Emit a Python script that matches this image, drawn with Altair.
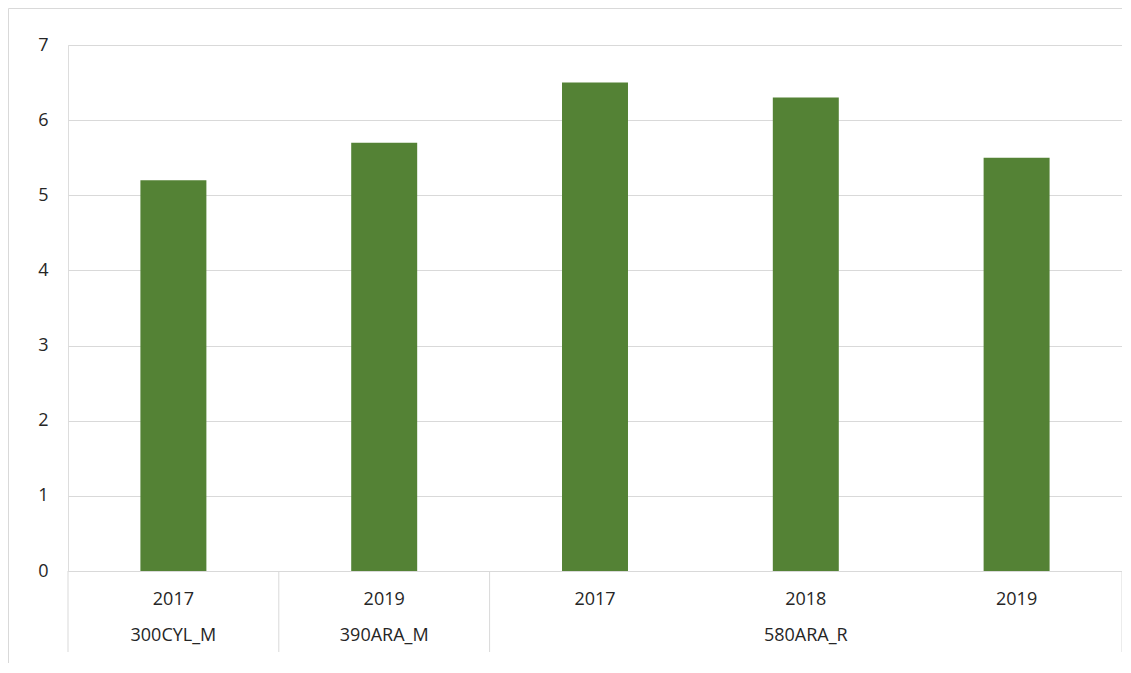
import altair as alt
import pandas as pd

# ---- data ----
groups = ["300CYL_M", "390ARA_M", "580ARA_R", "580ARA_R", "580ARA_R"]
years = ["2017", "2019", "2017", "2018", "2019"]
values = [5.2, 5.7, 6.5, 6.3, 5.5]
y_ticks = [0, 1, 2, 3, 4, 5, 6, 7]

BAR_COLOR = "#548235"
GRID = "#d9d9d9"
TEXT = "#262626"
FONT = "Open Sans"
FS = 18
W, H = 1054, 526
BAR_FRAC = 0.313

df = pd.DataFrame({
    "idx": list(range(len(values))),
    "group": groups,
    "year": years,
    "value": values,
})
df["mid"] = df["idx"] + 0.5
df["lo"] = df["mid"] - BAR_FRAC / 2
df["hi"] = df["mid"] + BAR_FRAC / 2

# group table built from the lists
gstart, gend, gname = [], [], []
for i, g in enumerate(groups):
    if not gname or gname[-1] != g:
        gname.append(g); gstart.append(i); gend.append(i + 1)
    else:
        gend[-1] = i + 1
gdf = pd.DataFrame({"group": gname, "start": gstart, "end": gend})
gdf["center"] = (gdf["start"] + gdf["end"]) / 2
bounds = sorted(set(gstart) | set(gend))
bdf = pd.DataFrame({"b": bounds})

xscale = alt.Scale(domain=[0, len(values)], nice=False, zero=False)
yscale = alt.Scale(domain=[0, 7], nice=False)

bars = alt.Chart(df).mark_bar(color=BAR_COLOR).encode(
    x=alt.X("lo:Q", scale=xscale,
            axis=alt.Axis(labels=False, ticks=False, grid=False, title=None,
                          domainColor=GRID, domainWidth=1)),
    x2="hi:Q",
    y=alt.Y("value:Q", scale=yscale,
            axis=alt.Axis(values=y_ticks, title=None, domain=False, ticks=False,
                          gridColor=GRID, gridWidth=1, labelPadding=20,
                          labelFont=FONT, labelFontSize=FS, labelColor=TEXT)),
    y2=alt.datum(0),
)

year_text = alt.Chart(df).mark_text(
    font=FONT, fontSize=FS, color=TEXT, baseline="middle", align="center"
).encode(
    x=alt.X("mid:Q", scale=xscale),
    y=alt.value(H + 29),
    text="year:N",
)

group_text = alt.Chart(gdf).mark_text(
    font=FONT, fontSize=FS, color=TEXT, baseline="middle", align="center"
).encode(
    x=alt.X("center:Q", scale=xscale),
    y=alt.value(H + 65),
    text="group:N",
)

seps = alt.Chart(bdf).mark_rule(color=GRID, strokeWidth=1).encode(
    x=alt.X("b:Q", scale=xscale),
    y=alt.value(H),
    y2=alt.value(H + 81),
)

frame = alt.Chart(alt.Data(values=[{}])).mark_rule(color=GRID, strokeWidth=1).encode(
    x=alt.value(-59.5), y=alt.value(-36.5), y2=alt.value(H + 92)
)
frame_top = alt.Chart(alt.Data(values=[{}])).mark_rule(color=GRID, strokeWidth=1).encode(
    x=alt.value(-59.5), x2=alt.value(W), y=alt.value(-36.5)
)

chart = alt.layer(bars, year_text, group_text, seps, frame, frame_top).properties(
    width=W, height=H,
    autosize=alt.AutoSizeParams(type="none"),
    padding={"left": 60, "top": 37, "right": 0, "bottom": 92},
).configure_view(stroke=None).configure(background="white")

chart.save("out.html", embed_options={"renderer": "svg", "actions": False})
